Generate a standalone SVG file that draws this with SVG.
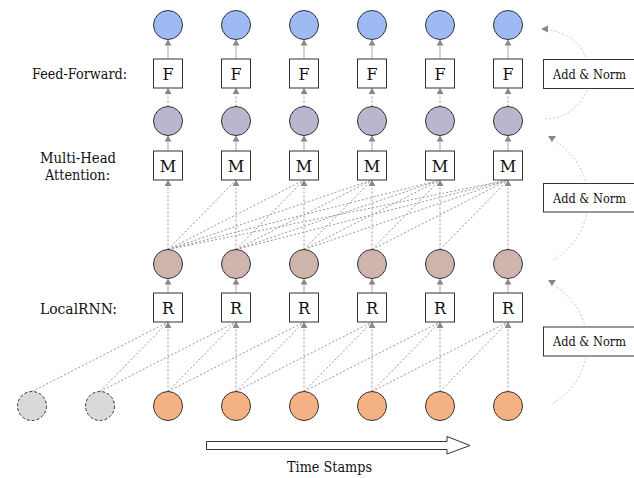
<svg xmlns="http://www.w3.org/2000/svg" width="634" height="478" viewBox="0 0 634 478">
  <style>
    text { font-family: 'DejaVu Serif', serif; fill: #111; text-anchor: middle; }
    .lbl { font-size: 15px; }
    .op { font-size: 16px; }
    .an { font-size: 13px; }
    .box { fill: #fff; stroke: #333; stroke-width: 1; }
    .node { stroke: #333; stroke-width: 1; }
    .out { fill: #9dbaf4; }
    .mid { fill: #b9b6cf; }
    .hid { fill: #cfb4ab; }
    .inp { fill: #f4b183; }
    .pad { fill: #d9d9d9; stroke-dasharray: 3 2; }
    .solid { stroke: #bbb; stroke-width: 1.2; fill: none; }
    .dash { stroke: #999; stroke-width: 1; stroke-dasharray: 2 2; fill: none; }
    .res { stroke: #b5b5b5; stroke-width: 0.8; stroke-dasharray: 2 2; fill: none; }
    .head { fill: #888; }
  </style>
  <defs>
    <marker id="tri" viewBox="0 0 6 7" refX="6" refY="3.5" markerWidth="6" markerHeight="7" markerUnits="userSpaceOnUse" orient="auto">
      <path d="M0,0 L6,3.5 L0,7 z" fill="#888"/>
    </marker>
  </defs>

  <!-- row captions -->
  <text class="lbl" x="79.5" y="79" textLength="95" lengthAdjust="spacingAndGlyphs">Feed-Forward:</text>
  <text class="lbl" x="78" y="163" textLength="76" lengthAdjust="spacingAndGlyphs">Multi-Head</text>
  <text class="lbl" x="77.5" y="180" textLength="65" lengthAdjust="spacingAndGlyphs">Attention:</text>
  <text class="lbl" x="78.5" y="314" textLength="77" lengthAdjust="spacingAndGlyphs">LocalRNN:</text>

  <!-- connectors -->
  <g id="connectors">
    <!-- attention: each position attends to all earlier positions -->
    <g class="dash">
      <line x1="168" y1="249.5" x2="236" y2="180"/>
      <line x1="168" y1="249.5" x2="304" y2="180"/>
      <line x1="236" y1="249.5" x2="304" y2="180"/>
      <line x1="168" y1="249.5" x2="372" y2="180"/>
      <line x1="236" y1="249.5" x2="372" y2="180"/>
      <line x1="304" y1="249.5" x2="372" y2="180"/>
      <line x1="168" y1="249.5" x2="440" y2="180"/>
      <line x1="236" y1="249.5" x2="440" y2="180"/>
      <line x1="304" y1="249.5" x2="440" y2="180"/>
      <line x1="372" y1="249.5" x2="440" y2="180"/>
      <line x1="168" y1="249.5" x2="508" y2="180"/>
      <line x1="236" y1="249.5" x2="508" y2="180"/>
      <line x1="304" y1="249.5" x2="508" y2="180"/>
      <line x1="372" y1="249.5" x2="508" y2="180"/>
      <line x1="440" y1="249.5" x2="508" y2="180"/>
    </g>
    <!-- local RNN window: two previous positions -->
    <g class="dash">
      <line x1="32" y1="391.5" x2="168" y2="322"/>
      <line x1="100" y1="391.5" x2="168" y2="322"/>
      <line x1="100" y1="391.5" x2="236" y2="322"/>
      <line x1="168" y1="391.5" x2="236" y2="322"/>
      <line x1="168" y1="391.5" x2="304" y2="322"/>
      <line x1="236" y1="391.5" x2="304" y2="322"/>
      <line x1="236" y1="391.5" x2="372" y2="322"/>
      <line x1="304" y1="391.5" x2="372" y2="322"/>
      <line x1="304" y1="391.5" x2="440" y2="322"/>
      <line x1="372" y1="391.5" x2="440" y2="322"/>
      <line x1="372" y1="391.5" x2="508" y2="322"/>
      <line x1="440" y1="391.5" x2="508" y2="322"/>
    </g>
    <!-- vertical dashed inputs -->
    <g class="dash" marker-end="url(#tri)">
      <line x1="168" y1="106.5" x2="168" y2="88"/>
      <line x1="236" y1="106.5" x2="236" y2="88"/>
      <line x1="304" y1="106.5" x2="304" y2="88"/>
      <line x1="372" y1="106.5" x2="372" y2="88"/>
      <line x1="440" y1="106.5" x2="440" y2="88"/>
      <line x1="508" y1="106.5" x2="508" y2="88"/>
      <line x1="168" y1="249.5" x2="168" y2="180"/>
      <line x1="236" y1="249.5" x2="236" y2="180"/>
      <line x1="304" y1="249.5" x2="304" y2="180"/>
      <line x1="372" y1="249.5" x2="372" y2="180"/>
      <line x1="440" y1="249.5" x2="440" y2="180"/>
      <line x1="508" y1="249.5" x2="508" y2="180"/>
      <line x1="168" y1="391.5" x2="168" y2="322"/>
      <line x1="236" y1="391.5" x2="236" y2="322"/>
      <line x1="304" y1="391.5" x2="304" y2="322"/>
      <line x1="372" y1="391.5" x2="372" y2="322"/>
      <line x1="440" y1="391.5" x2="440" y2="322"/>
      <line x1="508" y1="391.5" x2="508" y2="322"/>
    </g>
    <!-- solid outputs of each block -->
    <g class="solid" marker-end="url(#tri)">
      <line x1="168" y1="59" x2="168" y2="39.5"/>
      <line x1="236" y1="59" x2="236" y2="39.5"/>
      <line x1="304" y1="59" x2="304" y2="39.5"/>
      <line x1="372" y1="59" x2="372" y2="39.5"/>
      <line x1="440" y1="59" x2="440" y2="39.5"/>
      <line x1="508" y1="59" x2="508" y2="39.5"/>
      <line x1="168" y1="151" x2="168" y2="135.5"/>
      <line x1="236" y1="151" x2="236" y2="135.5"/>
      <line x1="304" y1="151" x2="304" y2="135.5"/>
      <line x1="372" y1="151" x2="372" y2="135.5"/>
      <line x1="440" y1="151" x2="440" y2="135.5"/>
      <line x1="508" y1="151" x2="508" y2="135.5"/>
      <line x1="168" y1="293" x2="168" y2="278.5"/>
      <line x1="236" y1="293" x2="236" y2="278.5"/>
      <line x1="304" y1="293" x2="304" y2="278.5"/>
      <line x1="372" y1="293" x2="372" y2="278.5"/>
      <line x1="440" y1="293" x2="440" y2="278.5"/>
      <line x1="508" y1="293" x2="508" y2="278.5"/>
    </g>
    <!-- residual arcs -->
    <path class="res" d="M545,119 A44.5,44.5 0 0 0 545,30"/>
    <polygon class="head" points="541,29 548,25.5 548,32.5"/>
    <path class="res" d="M553,260 A69,69 0 0 0 555,141"/>
    <polygon class="head" points="548,136 556,136 552,142"/>
    <path class="res" d="M553,403 A68,68 0 0 0 555,286"/>
    <polygon class="head" points="548,280 556,280 552,286"/>
  </g>

  <!-- output states -->
  <g id="out-0"><circle class="node out" cx="168" cy="25" r="14.5"/></g>
  <g id="out-1"><circle class="node out" cx="236" cy="25" r="14.5"/></g>
  <g id="out-2"><circle class="node out" cx="304" cy="25" r="14.5"/></g>
  <g id="out-3"><circle class="node out" cx="372" cy="25" r="14.5"/></g>
  <g id="out-4"><circle class="node out" cx="440" cy="25" r="14.5"/></g>
  <g id="out-5"><circle class="node out" cx="508" cy="25" r="14.5"/></g>

  <!-- feed-forward blocks -->
  <g id="ff-0"><rect class="box" x="153.5" y="59" width="29" height="29"/><text class="op" x="168" y="79.5">F</text></g>
  <g id="ff-1"><rect class="box" x="221.5" y="59" width="29" height="29"/><text class="op" x="236" y="79.5">F</text></g>
  <g id="ff-2"><rect class="box" x="289.5" y="59" width="29" height="29"/><text class="op" x="304" y="79.5">F</text></g>
  <g id="ff-3"><rect class="box" x="357.5" y="59" width="29" height="29"/><text class="op" x="372" y="79.5">F</text></g>
  <g id="ff-4"><rect class="box" x="425.5" y="59" width="29" height="29"/><text class="op" x="440" y="79.5">F</text></g>
  <g id="ff-5"><rect class="box" x="493.5" y="59" width="29" height="29"/><text class="op" x="508" y="79.5">F</text></g>

  <!-- attention outputs -->
  <g id="att-0"><circle class="node mid" cx="168" cy="121" r="14.5"/></g>
  <g id="att-1"><circle class="node mid" cx="236" cy="121" r="14.5"/></g>
  <g id="att-2"><circle class="node mid" cx="304" cy="121" r="14.5"/></g>
  <g id="att-3"><circle class="node mid" cx="372" cy="121" r="14.5"/></g>
  <g id="att-4"><circle class="node mid" cx="440" cy="121" r="14.5"/></g>
  <g id="att-5"><circle class="node mid" cx="508" cy="121" r="14.5"/></g>

  <!-- multi-head attention blocks -->
  <g id="mha-0"><rect class="box" x="153.5" y="151" width="29" height="29"/><text class="op" x="168" y="171.5">M</text></g>
  <g id="mha-1"><rect class="box" x="221.5" y="151" width="29" height="29"/><text class="op" x="236" y="171.5">M</text></g>
  <g id="mha-2"><rect class="box" x="289.5" y="151" width="29" height="29"/><text class="op" x="304" y="171.5">M</text></g>
  <g id="mha-3"><rect class="box" x="357.5" y="151" width="29" height="29"/><text class="op" x="372" y="171.5">M</text></g>
  <g id="mha-4"><rect class="box" x="425.5" y="151" width="29" height="29"/><text class="op" x="440" y="171.5">M</text></g>
  <g id="mha-5"><rect class="box" x="493.5" y="151" width="29" height="29"/><text class="op" x="508" y="171.5">M</text></g>

  <!-- local RNN outputs -->
  <g id="rnn-out-0"><circle class="node hid" cx="168" cy="264" r="14.5"/></g>
  <g id="rnn-out-1"><circle class="node hid" cx="236" cy="264" r="14.5"/></g>
  <g id="rnn-out-2"><circle class="node hid" cx="304" cy="264" r="14.5"/></g>
  <g id="rnn-out-3"><circle class="node hid" cx="372" cy="264" r="14.5"/></g>
  <g id="rnn-out-4"><circle class="node hid" cx="440" cy="264" r="14.5"/></g>
  <g id="rnn-out-5"><circle class="node hid" cx="508" cy="264" r="14.5"/></g>

  <!-- local RNN blocks -->
  <g id="rnn-0"><rect class="box" x="153.5" y="293" width="29" height="29"/><text class="op" x="168" y="313.5">R</text></g>
  <g id="rnn-1"><rect class="box" x="221.5" y="293" width="29" height="29"/><text class="op" x="236" y="313.5">R</text></g>
  <g id="rnn-2"><rect class="box" x="289.5" y="293" width="29" height="29"/><text class="op" x="304" y="313.5">R</text></g>
  <g id="rnn-3"><rect class="box" x="357.5" y="293" width="29" height="29"/><text class="op" x="372" y="313.5">R</text></g>
  <g id="rnn-4"><rect class="box" x="425.5" y="293" width="29" height="29"/><text class="op" x="440" y="313.5">R</text></g>
  <g id="rnn-5"><rect class="box" x="493.5" y="293" width="29" height="29"/><text class="op" x="508" y="313.5">R</text></g>

  <!-- padding and inputs -->
  <g id="pad-0"><circle class="node pad" cx="32" cy="406" r="14.5"/></g>
  <g id="pad-1"><circle class="node pad" cx="100" cy="406" r="14.5"/></g>
  <g id="in-0"><circle class="node inp" cx="168" cy="406" r="14.5"/></g>
  <g id="in-1"><circle class="node inp" cx="236" cy="406" r="14.5"/></g>
  <g id="in-2"><circle class="node inp" cx="304" cy="406" r="14.5"/></g>
  <g id="in-3"><circle class="node inp" cx="372" cy="406" r="14.5"/></g>
  <g id="in-4"><circle class="node inp" cx="440" cy="406" r="14.5"/></g>
  <g id="in-5"><circle class="node inp" cx="508" cy="406" r="14.5"/></g>

  <!-- add & norm boxes -->
  <g id="addnorm-ff"><rect class="box" x="543.5" y="59.5" width="95" height="29"/><text class="an" x="589.5" y="78.5" textLength="73" lengthAdjust="spacingAndGlyphs">Add &amp; Norm</text></g>
  <g id="addnorm-mha"><rect class="box" x="543.5" y="183.5" width="95" height="28.5"/><text class="an" x="589.5" y="202.5" textLength="73" lengthAdjust="spacingAndGlyphs">Add &amp; Norm</text></g>
  <g id="addnorm-rnn"><rect class="box" x="543.5" y="327" width="95" height="29"/><text class="an" x="589.5" y="346" textLength="73" lengthAdjust="spacingAndGlyphs">Add &amp; Norm</text></g>

  <!-- time axis -->
  <g id="time-axis">
    <path d="M206.5,441.5 L447,441.5 L447,436.5 L470,445.5 L447,454 L447,449.5 L206.5,449.5 Z" fill="#fff" stroke="#333" stroke-width="1"/>
    <text class="lbl" x="329.5" y="472" textLength="85" lengthAdjust="spacingAndGlyphs">Time Stamps</text>
  </g>
</svg>
